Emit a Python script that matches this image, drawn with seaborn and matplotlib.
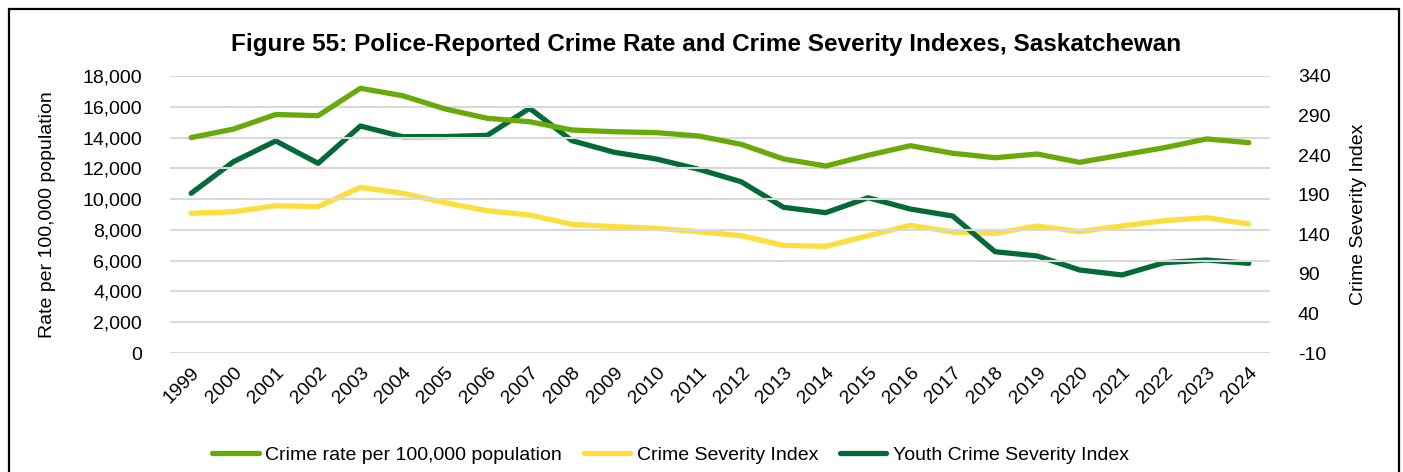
import matplotlib
matplotlib.use("Agg")
import matplotlib.pyplot as plt
import pandas as pd
import seaborn as sns
from matplotlib.patches import Rectangle

years = list(range(1999, 2025))
crime_rate = [14000, 14550, 15500, 15420, 17200, 16720, 15860, 15250, 15030, 14490,
              14380, 14320, 14100, 13560, 12610, 12150, 12850, 13470, 12980, 12690,
              12930, 12390, 12870, 13340, 13910, 13670]
csi = [166.5, 168.5, 176.1, 174.9, 199.3, 191.8, 179.9, 169.8, 164.4, 152.6,
       149.6, 147.5, 143.3, 138.2, 126.0, 124.8, 138.2, 151.3, 142.9, 141.2,
       150.5, 143.3, 150.5, 157.2, 161.0, 153.0]
youth_csi = [191.8, 231.7, 257.9, 229.7, 276.8, 263.3, 263.5, 265.0, 299.2, 258.3,
             243.6, 235.1, 222.1, 206.4, 174.1, 167.3, 186.2, 171.9, 163.1, 118.0,
             112.6, 94.9, 88.6, 104.1, 107.5, 103.3]

left_ticks = list(range(0, 18001, 2000))
right_ticks = list(range(-10, 341, 50))

GREEN = "#67AA09"
YELLOW = "#FEDD3E"
DARK = "#046A38"

sns.set_theme(style="white")
plt.rcParams["font.family"] = ["Liberation Sans", "DejaVu Sans"]
plt.rcParams["axes.unicode_minus"] = False
for k in ("text.color", "axes.labelcolor", "xtick.color", "ytick.color"):
    plt.rcParams[k] = "black"

df = pd.DataFrame({"pos": range(len(years)), "rate": crime_rate,
                   "csi": csi, "ycsi": youth_csi})

fig = plt.figure(figsize=(14.03, 4.72), dpi=100)
ax = fig.add_axes([170 / 1403, 1 - 353 / 472, 1100 / 1403, 277 / 472])
ax2 = ax.twinx()

lw = 3.8
sns.lineplot(data=df, x="pos", y="rate", ax=ax, color=GREEN, lw=lw,
             solid_capstyle="round", legend=False, zorder=3)
sns.lineplot(data=df, x="pos", y="csi", ax=ax2, color=YELLOW, lw=lw,
             solid_capstyle="round", legend=False)
sns.lineplot(data=df, x="pos", y="ycsi", ax=ax2, color=DARK, lw=lw,
             solid_capstyle="round", legend=False)

fs = 14
ax.set_xlim(-0.5, len(years) - 0.5)
ax.set_ylim(0, 18000)
ax2.set_ylim(-10, 340)
ax.set_yticks(left_ticks)
ax.set_yticklabels([f"{v:,}" for v in left_ticks])
ax2.set_yticks(right_ticks)
ax.set_xticks(range(len(years)))
ax.set_xticklabels([str(y) for y in years], rotation=45, ha="right",
                   rotation_mode="anchor", fontsize=fs)
ax.grid(axis="y", color="#d9d9d9", lw=1.5)
ax.set_axisbelow(True)
for a in (ax, ax2):
    for s in a.spines.values():
        s.set_visible(False)
    a.tick_params(length=0, labelsize=fs)
ax.tick_params(axis="y", pad=20)
ax2.tick_params(axis="y", pad=20)
ax.tick_params(axis="x", pad=8)
ax.set_xlabel("")
ax.set_ylabel("Rate per 100,000 population", fontsize=fs, labelpad=19)
ax2.set_ylabel("Crime Severity Index", fontsize=fs, labelpad=14)

ax.set_zorder(ax2.get_zorder() + 1)
ax.patch.set_visible(False)

fig.suptitle("Figure 55: Police-Reported Crime Rate and Crime Severity Indexes, Saskatchewan",
             x=0.503, y=0.93, fontsize=17.5, fontweight="bold")

handles = ax.get_lines()[:1] + ax2.get_lines()
labels = ["Crime rate per 100,000 population", "Crime Severity Index", "Youth Crime Severity Index"]
fig.legend(handles, labels, loc="center", bbox_to_anchor=(0.478, 0.036), ncol=3,
           frameon=False, fontsize=fs, handlelength=2.4, columnspacing=1.1, handletextpad=0.35)

fig.patches.append(Rectangle((9 / 1403, -0.1), 1390 / 1403, 1.1 - 9 / 472,
                             transform=fig.transFigure, fill=False, ec="black", lw=1.6))

fig.savefig("out.png", dpi=100)
